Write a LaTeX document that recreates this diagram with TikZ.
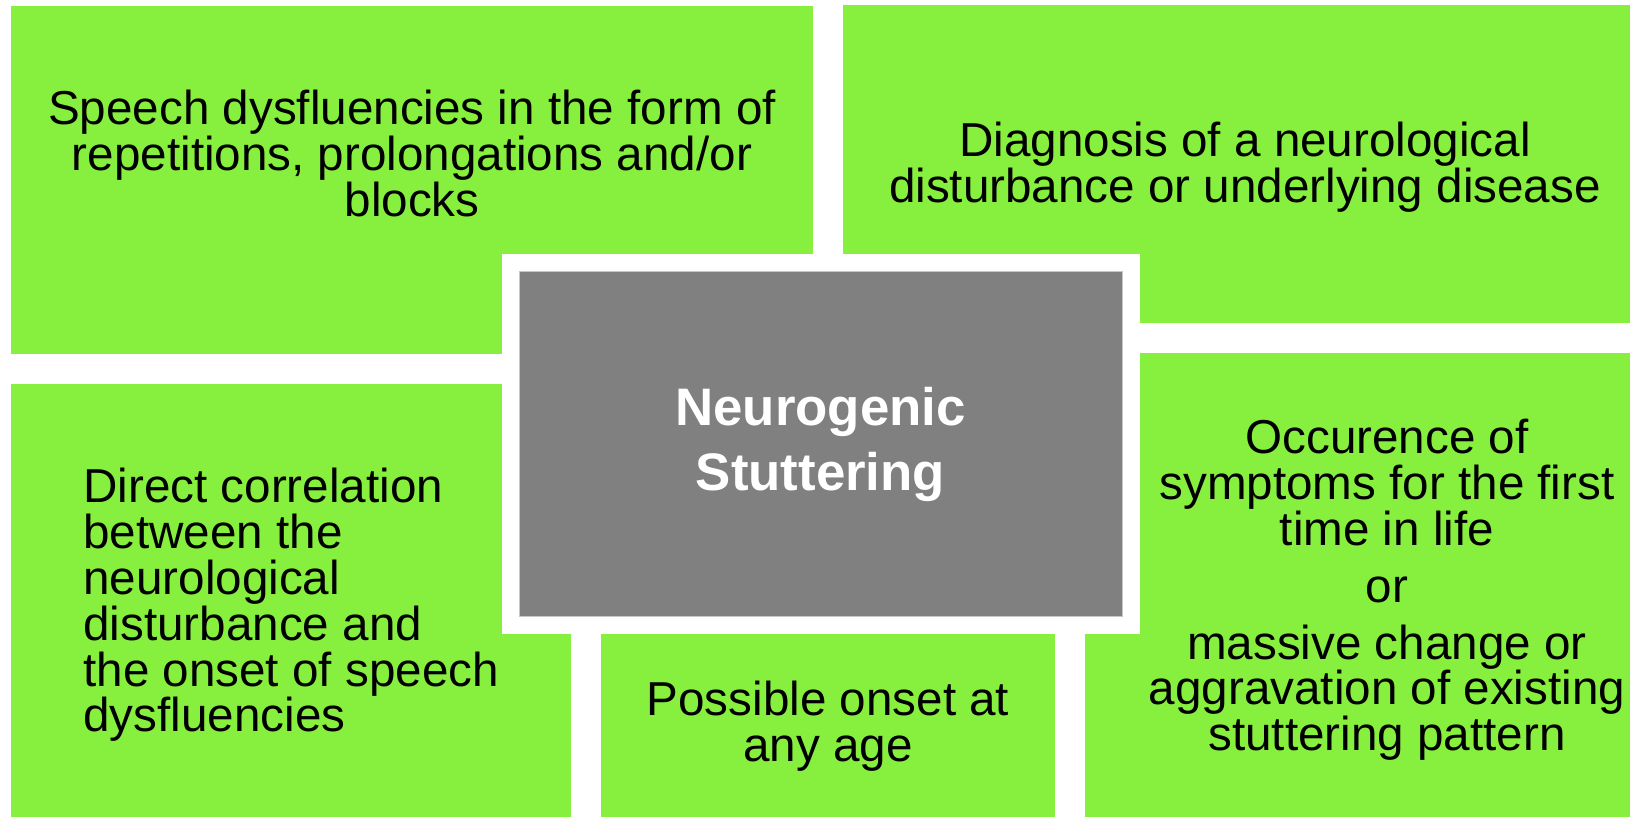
\documentclass[tikz,border=0pt]{standalone}
\usepackage{fontspec}
\setmainfont{Liberation Sans}
\usepackage{tikz}
\usetikzlibrary{positioning}
\definecolor{leafgreen}{RGB}{135,240,62}
\definecolor{coregray}{RGB}{128,128,128}

\begin{document}
\begin{tikzpicture}[
  x=0.5pt, y=-0.5pt,
  leaf/.style={fill=leafgreen},
  frame/.style={fill=white},
  core/.style={rectangle, fill=coregray, draw=black!22, line width=0.5pt,
               text=white, align=center, inner sep=0pt,
               font=\fontsize{26.4}{32.5}\selectfont\bfseries},
  txt/.style={align=center, inner sep=0pt, text=black,
              font=\fontsize{23.8}{22.9}\selectfont}
]
\useasboundingbox (0,0) rectangle (1630,817);

% --- Green Boxes ---
\fill[leaf] (11,6) rectangle (813,354);
\fill[leaf] (843,5) rectangle (1630,323);
\fill[leaf] (11,384) rectangle (571,817);
\fill[leaf] (601,634) rectangle (1055,817);
\fill[leaf] (1085,353) rectangle (1630,817);

% --- Centre ---
\fill[frame] (502,254) rectangle (1140,634);
\node[core, minimum width=301.5pt, minimum height=172.75pt] (title) at (820.5,444.25)
  {Neurogenic\\Stuttering};

% --- Texts ---
\node[txt] (speech) at (412,153.5)
  {Speech dysfluencies in the form of\\repetitions, prolongations and/or\\blocks};
\node[txt] (diagnosis) at (1245,167)
  {Diagnosis of a neurological\\disturbance or underlying disease};
\node[txt, align=left, anchor=west] (correlation) at (83,605)
  {Direct correlation\\between the\\neurological\\disturbance and\\the onset of speech\\dysfluencies};
\node[txt] (onset) at (828,726.5)
  {Possible onset at\\any age};
\node[txt] (occurence) at (1387,590)
  {Occurence of\\symptoms for the first\\time in life\\[5.5pt]or\\[5.5pt]massive change or\\aggravation of existing\\stuttering pattern};

\end{tikzpicture}
\end{document}
